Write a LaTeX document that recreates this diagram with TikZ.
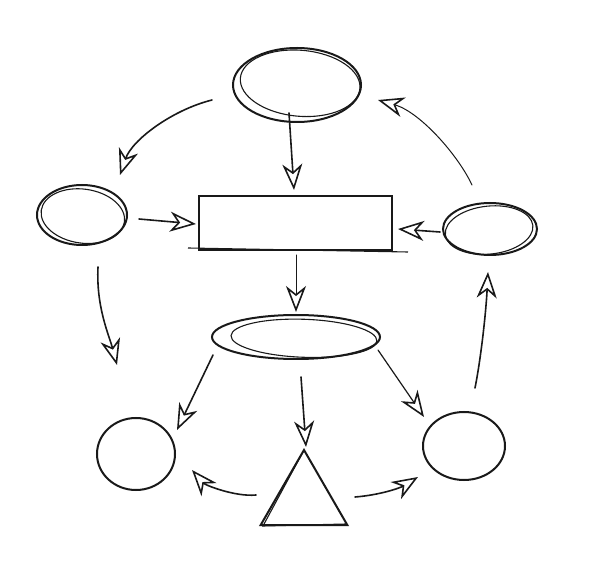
\documentclass[tikz,border=0pt]{standalone}
\usetikzlibrary{arrows.meta,shapes.geometric,calc}
\begin{document}
\begin{tikzpicture}[x=1pt,y=-1pt,
  shapeline/.style={draw=black!90,line width=2pt,inner sep=0pt},
  sketch/.style={draw=black!90,line width=1.1pt},
  arr/.style={draw=black!90,line width=1.6pt,line cap=round,
    -{Stealth[open,length=26pt,width=20pt,inset=8pt,line width=1.6pt]}}]
\useasboundingbox (0,0) rectangle (600,569);
% nodes
\node[shapeline,ellipse,minimum width=128,minimum height=74] (top) at (297,85) {};
\node[shapeline,rectangle,minimum width=193,minimum height=54] (rect) at (295.5,223) {};
\node[shapeline,ellipse,minimum width=90,minimum height=60] (left) at (82,215) {};
\node[shapeline,ellipse,minimum width=94,minimum height=52] (right) at (490,229) {};
\node[shapeline,ellipse,minimum width=168,minimum height=44] (mid) at (296,337) {};
\node[shapeline,ellipse,minimum width=78,minimum height=72] (lc) at (136,454) {};
\node[shapeline,regular polygon,regular polygon sides=3,minimum size=100] (tri) at (304,500) {};
\node[shapeline,ellipse,minimum width=82,minimum height=68] (rc) at (464,446) {};
\coordinate (lfree) at (117,365);
% sketchy second strokes
\draw[sketch,rotate around={-5:(top.center)}] ($(top)+(3,-2)$) ellipse [x radius=60,y radius=33];
\draw[sketch,rotate around={-8:(left.center)}] ($(left)+(1,1)$) ellipse [x radius=42,y radius=27];
\draw[sketch,rotate around={6:(right.center)}] ($(right)+(-1,1)$) ellipse [x radius=44,y radius=24];
\draw[sketch,rotate around={-2:(mid.center)}] ($(mid)+(8,1)$) ellipse [x radius=73,y radius=19];
\draw[sketch] ($(rect.south west)+(-10,-3)$) -- ($(rect.south east)+(15,1)$);
\draw[sketch] ($(tri.corner 1)+(0,2)$) -- ($(tri.corner 2)+(4,0)$) -- ($(tri.corner 3)+(-3,-2)$);
% connectors
\draw[arr] ($(top)+(-8,28)$) -- ($(rect)+(-1.5,-33)$);
\draw[arr] ($(top)+(-85,15)$) .. controls +(-40,10) and +(12,-35) .. ($(left)+(38,-40)$);
\draw[arr,line width=1pt] ($(right)+(-18,-44)$) .. controls +(-14,-30) and +(42,12) .. ($(top)+(81,15)$);
\draw[arr] ($(left)+(57,4)$) -- ($(rect)+(-99.5,1)$);
\draw[arr] ($(right)+(-50,3)$) -- ($(rect)+(102.5,6)$);
\draw[arr,line width=1pt] ($(rect)+(0.5,32)$) -- ($(mid)+(0,-25)$);
\draw[arr] ($(left)+(16,52)$) .. controls +(-2,40) and +(-8,-30) .. (lfree);
\draw[arr] ($(mid)+(-83,18)$) -- ($(lc)+(41,-24)$);
\draw[arr] ($(mid)+(5,40)$) -- ($(tri)+(2,-53)$);
\draw[arr,line width=1.2pt] ($(mid)+(82,13)$) -- ($(rc)+(-40,-29)$);
\draw[arr] ($(tri)+(-48,-5)$) .. controls +(-21,2) and +(13,15) .. ($(lc)+(56,16)$);
\draw[arr] ($(tri)+(51,-3)$) .. controls +(25,-2) and +(-18,11) .. ($(rc)+(-46,31)$);
\draw[arr] ($(rc)+(11,-58)$) .. controls +(6,-30) and +(-2,40) .. ($(right)+(-2,43)$);
\end{tikzpicture}
\end{document}
